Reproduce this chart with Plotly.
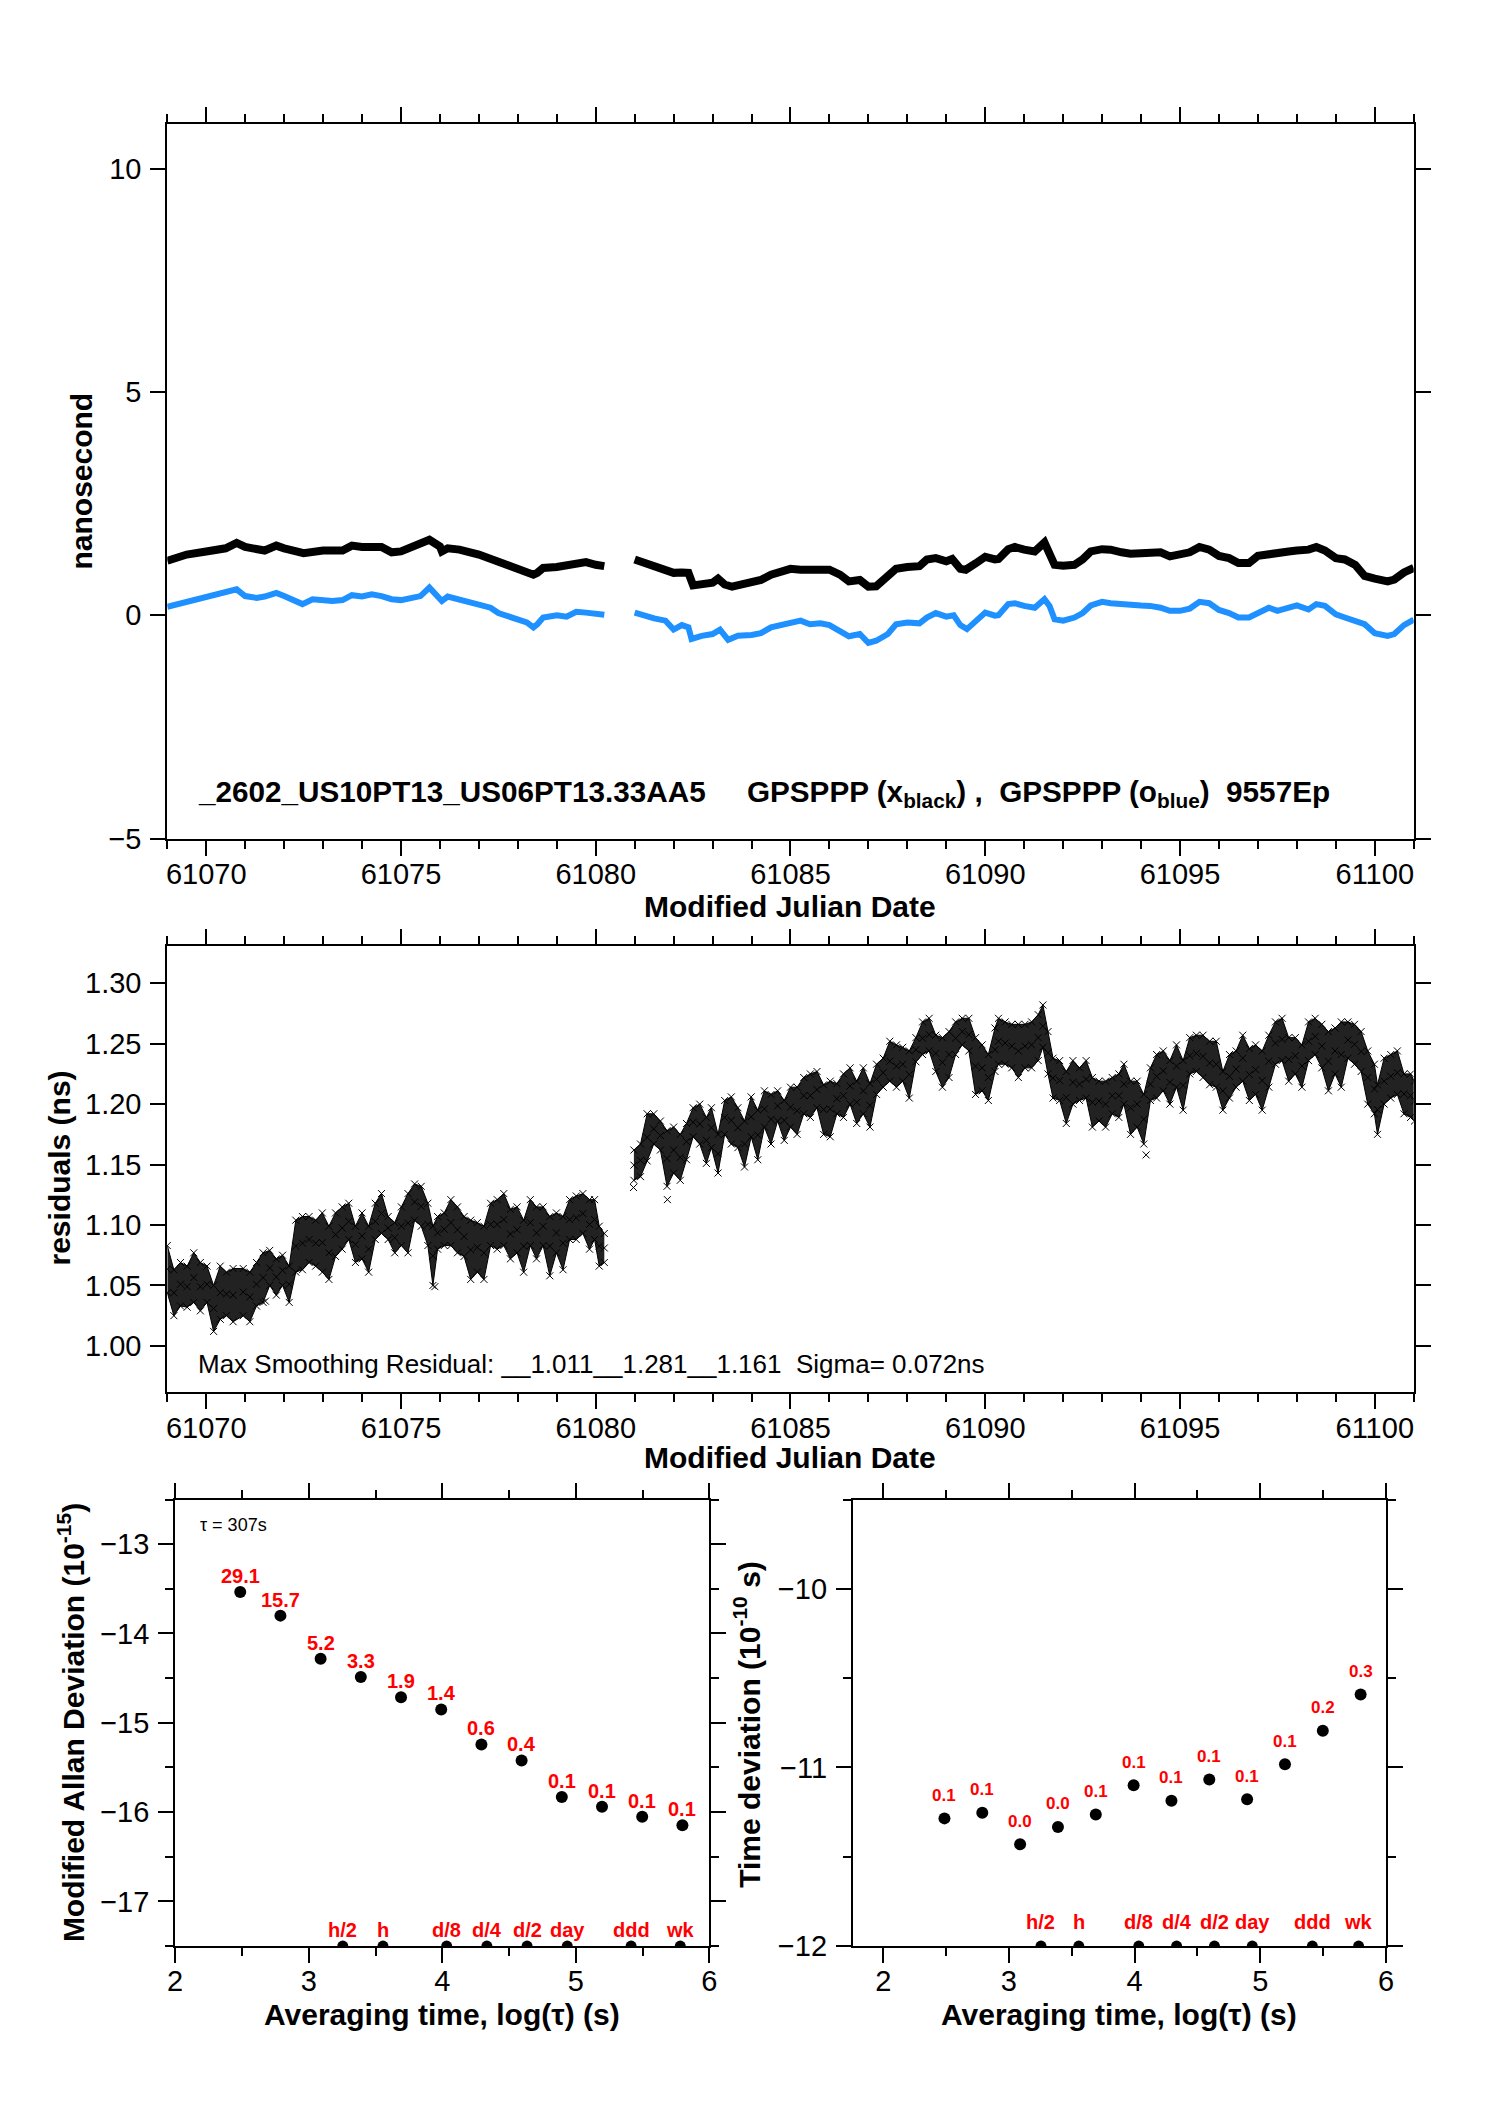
import plotly.graph_objects as go

W, H = 1488, 2105
FONT = "Liberation Sans, Arial, Helvetica, sans-serif"

# ---------------- top panel: time series (MJD, ns) ----------------
bk_t = [61069.00, 61069.50, 61070.00, 61070.50, 61070.78, 61071.00, 61071.50, 61071.80, 61072.00, 61072.50,
        61073.00, 61073.50, 61073.74, 61074.00, 61074.50, 61074.76, 61075.00, 61075.50, 61075.73, 61076.00,
        61076.05, 61076.20, 61076.50, 61077.00, 61077.50, 61078.00, 61078.40, 61078.50, 61078.65, 61079.00,
        61079.50, 61079.75, 61080.00, 61080.22,
        61081.00, 61081.20, 61081.50, 61081.79, 61082.00, 61082.21, 61082.38, 61082.50, 61082.72, 61083.00,
        61083.14, 61083.31, 61083.50, 61083.73, 61084.00, 61084.24, 61084.50, 61084.75, 61085.00, 61085.26,
        61085.50, 61085.77, 61086.00, 61086.27, 61086.50, 61086.78, 61087.00, 61087.20, 61087.50, 61087.71,
        61088.00, 61088.31, 61088.50, 61088.73, 61089.00, 61089.15, 61089.36, 61089.50, 61089.75, 61090.00,
        61090.25, 61090.34, 61090.59, 61090.76, 61091.00, 61091.27, 61091.52, 61091.65, 61091.78, 61092.00,
        61092.29, 61092.50, 61092.71, 61093.00, 61093.22, 61093.50, 61093.73, 61094.00, 61094.23, 61094.50,
        61094.74, 61095.00, 61095.25, 61095.50, 61095.75, 61096.00, 61096.26, 61096.50, 61096.77, 61097.00,
        61097.28, 61097.50, 61097.79, 61098.00, 61098.30, 61098.50, 61098.72, 61099.00, 61099.23, 61099.50,
        61099.74, 61100.00, 61100.33, 61100.50, 61100.75, 61101.00]
bk_v = [1.22, 1.36, 1.43, 1.50, 1.62, 1.53, 1.45, 1.56, 1.50, 1.39,
        1.45, 1.45, 1.56, 1.53, 1.53, 1.41, 1.43, 1.58, 1.69, 1.54,
        1.43, 1.50, 1.47, 1.36, 1.21, 1.02, 0.91, 0.95, 1.06, 1.08,
        1.16, 1.19, 1.13, 1.10,
        1.25, 1.19, 1.11, 1.06, 0.95, 0.96, 0.95, 0.67, 0.71, 0.73,
        0.82, 0.69, 0.64, 0.69, 0.74, 0.79, 0.91, 0.99, 1.04, 1.02,
        1.01, 0.99, 1.02, 0.91, 0.76, 0.79, 0.64, 0.65, 0.86, 1.04,
        1.08, 1.10, 1.25, 1.28, 1.21, 1.26, 1.04, 1.02, 1.16, 1.31,
        1.25, 1.26, 1.48, 1.53, 1.47, 1.43, 1.63, 1.39, 1.13, 1.11,
        1.13, 1.25, 1.43, 1.48, 1.47, 1.41, 1.38, 1.39, 1.41, 1.41,
        1.32, 1.36, 1.41, 1.53, 1.47, 1.33, 1.28, 1.17, 1.17, 1.33,
        1.38, 1.41, 1.43, 1.45, 1.47, 1.53, 1.45, 1.28, 1.25, 1.13,
        0.88, 0.82, 0.76, 0.80, 0.96, 1.06]

bl_t = [61069.00, 61069.50, 61070.00, 61070.50, 61070.78, 61071.00, 61071.29, 61071.50, 61071.80, 61072.00,
        61072.22, 61072.47, 61072.73, 61073.00, 61073.24, 61073.50, 61073.74, 61074.00, 61074.25, 61074.50,
        61074.76, 61075.00, 61075.27, 61075.50, 61075.73, 61076.00, 61076.05, 61076.20, 61076.50, 61077.00,
        61077.30, 61077.50, 61078.00, 61078.23, 61078.40, 61078.50, 61078.65, 61079.00, 61079.25, 61079.50,
        61079.75, 61080.00, 61080.22,
        61081.00, 61081.20, 61081.50, 61081.79, 61082.00, 61082.21, 61082.38, 61082.46, 61082.72, 61083.00,
        61083.19, 61083.40, 61083.65, 61084.00, 61084.24, 61084.50, 61084.75, 61085.00, 61085.26, 61085.50,
        61085.77, 61086.00, 61086.27, 61086.50, 61086.78, 61087.00, 61087.20, 61087.50, 61087.71, 61088.00,
        61088.31, 61088.50, 61088.73, 61089.00, 61089.19, 61089.36, 61089.53, 61089.75, 61090.00, 61090.25,
        61090.34, 61090.59, 61090.76, 61091.00, 61091.27, 61091.52, 61091.65, 61091.78, 61092.00, 61092.29,
        61092.50, 61092.71, 61093.00, 61093.22, 61093.50, 61093.73, 61094.00, 61094.23, 61094.50, 61094.74,
        61095.00, 61095.25, 61095.50, 61095.75, 61096.00, 61096.26, 61096.50, 61096.77, 61097.00, 61097.28,
        61097.50, 61097.79, 61098.00, 61098.30, 61098.50, 61098.72, 61099.00, 61099.23, 61099.50, 61099.74,
        61100.00, 61100.33, 61100.50, 61100.75, 61101.00]
bl_v = [0.19, 0.30, 0.39, 0.50, 0.58, 0.43, 0.39, 0.42, 0.50, 0.43,
        0.36, 0.25, 0.36, 0.34, 0.32, 0.34, 0.45, 0.42, 0.47, 0.43,
        0.36, 0.34, 0.39, 0.43, 0.62, 0.39, 0.32, 0.42, 0.36, 0.25,
        0.17, 0.05, -0.07, -0.16, -0.27, -0.20, -0.05, 0.00, -0.03, 0.08,
        0.06, 0.02, 0.01,
        0.06, 0.00, -0.07, -0.12, -0.32, -0.22, -0.27, -0.53, -0.46, -0.42,
        -0.32, -0.55, -0.46, -0.44, -0.40, -0.27, -0.22, -0.16, -0.12, -0.20,
        -0.18, -0.22, -0.37, -0.47, -0.42, -0.62, -0.57, -0.42, -0.20, -0.16,
        -0.18, -0.05, 0.05, -0.03, 0.00, -0.22, -0.31, -0.12, 0.06, -0.01,
        0.00, 0.25, 0.27, 0.21, 0.17, 0.36, 0.21, -0.09, -0.12, -0.05,
        0.05, 0.22, 0.30, 0.27, 0.25, 0.21, 0.22, 0.21, 0.17, 0.10,
        0.10, 0.15, 0.30, 0.27, 0.12, 0.05, -0.05, -0.05, 0.05, 0.17,
        0.10, 0.17, 0.22, 0.13, 0.25, 0.21, 0.02, -0.05, -0.12, -0.20,
        -0.40, -0.46, -0.42, -0.22, -0.10]

# ---------------- middle panel: residual band (MJD, low, high in ns) ----------------
res_t = [61069.00, 61069.17, 61069.34, 61069.51, 61069.68, 61069.85, 61070.02, 61070.19, 61070.36, 61070.52,
         61070.69, 61070.95, 61071.12, 61071.29, 61071.46, 61071.63, 61071.80, 61071.96, 61072.13, 61072.30,
         61072.47, 61072.64, 61072.81, 61072.98, 61073.15, 61073.32, 61073.49, 61073.66, 61073.83, 61074.00,
         61074.17, 61074.34, 61074.50, 61074.67, 61074.84, 61075.01, 61075.18, 61075.35, 61075.52, 61075.69,
         61075.82, 61075.94, 61076.11, 61076.28, 61076.45, 61076.62, 61076.79, 61076.96, 61077.13, 61077.30,
         61077.47, 61077.64, 61077.81, 61077.98, 61078.15, 61078.32, 61078.48, 61078.65, 61078.82, 61078.99,
         61079.16, 61079.33, 61079.50, 61079.67, 61079.84, 61079.97, 61080.09, 61080.22,
         61080.98, 61081.15, 61081.32, 61081.49, 61081.66, 61081.83, 61082.00, 61082.17, 61082.33, 61082.50,
         61082.67, 61082.84, 61082.97, 61083.14, 61083.31, 61083.48, 61083.65, 61083.82, 61083.99, 61084.16,
         61084.33, 61084.50, 61084.67, 61084.84, 61085.00, 61085.17, 61085.34, 61085.51, 61085.68, 61085.85,
         61086.02, 61086.19, 61086.36, 61086.53, 61086.70, 61086.87, 61087.04, 61087.21, 61087.38, 61087.55,
         61087.72, 61087.88, 61088.05, 61088.22, 61088.39, 61088.56, 61088.73, 61088.90, 61089.07, 61089.24,
         61089.41, 61089.58, 61089.75, 61089.92, 61090.08, 61090.25, 61090.34, 61090.51, 61090.68, 61090.85,
         61091.02, 61091.19, 61091.36, 61091.48, 61091.61, 61091.74, 61091.91, 61092.08, 61092.25, 61092.42,
         61092.59, 61092.75, 61092.92, 61093.09, 61093.26, 61093.43, 61093.56, 61093.73, 61093.90, 61094.07,
         61094.24, 61094.40, 61094.57, 61094.74, 61094.91, 61095.08, 61095.25, 61095.42, 61095.59, 61095.76,
         61095.93, 61096.10, 61096.27, 61096.44, 61096.61, 61096.78, 61096.94, 61097.11, 61097.28, 61097.45,
         61097.62, 61097.79, 61097.96, 61098.13, 61098.30, 61098.47, 61098.64, 61098.81, 61098.98, 61099.14,
         61099.31, 61099.48, 61099.65, 61099.82, 61099.99, 61100.07, 61100.24, 61100.41, 61100.58, 61100.75,
         61100.92, 61101.02]
res_lo = [1.044, 1.025, 1.033, 1.032, 1.036, 1.029, 1.036, 1.012, 1.022, 1.025,
          1.020, 1.025, 1.020, 1.033, 1.036, 1.050, 1.042, 1.050, 1.036, 1.061,
          1.063, 1.069, 1.066, 1.061, 1.055, 1.074, 1.080, 1.088, 1.069, 1.072,
          1.061, 1.088, 1.093, 1.088, 1.077, 1.083, 1.077, 1.104, 1.099, 1.083,
          1.050, 1.080, 1.083, 1.083, 1.077, 1.074, 1.055, 1.061, 1.055, 1.083,
          1.080, 1.083, 1.072, 1.077, 1.061, 1.083, 1.072, 1.083, 1.058, 1.077,
          1.063, 1.088, 1.088, 1.093, 1.080, 1.088, 1.066, 1.069,
          1.137, 1.140, 1.153, 1.167, 1.162, 1.132, 1.143, 1.137, 1.154, 1.173,
          1.167, 1.151, 1.164, 1.143, 1.175, 1.167, 1.164, 1.148, 1.173, 1.154,
          1.181, 1.167, 1.186, 1.170, 1.181, 1.175, 1.192, 1.189, 1.197, 1.175,
          1.173, 1.192, 1.189, 1.200, 1.184, 1.192, 1.181, 1.208, 1.214, 1.219,
          1.214, 1.219, 1.205, 1.235, 1.241, 1.244, 1.227, 1.214, 1.222, 1.241,
          1.249, 1.244, 1.208, 1.211, 1.203, 1.227, 1.233, 1.233, 1.230, 1.222,
          1.230, 1.230, 1.236, 1.247, 1.225, 1.205, 1.203, 1.184, 1.200, 1.203,
          1.205, 1.181, 1.186, 1.181, 1.192, 1.189, 1.200, 1.175, 1.181, 1.167,
          1.203, 1.205, 1.211, 1.200, 1.214, 1.195, 1.225, 1.227, 1.222, 1.216,
          1.214, 1.195, 1.205, 1.214, 1.219, 1.203, 1.208, 1.195, 1.214, 1.233,
          1.236, 1.219, 1.225, 1.214, 1.236, 1.241, 1.230, 1.211, 1.225, 1.214,
          1.238, 1.233, 1.227, 1.200, 1.192, 1.175, 1.200, 1.205, 1.208, 1.192,
          1.189, 1.186]
res_hi = [1.083, 1.063, 1.069, 1.066, 1.077, 1.069, 1.066, 1.050, 1.066, 1.061,
          1.064, 1.064, 1.061, 1.069, 1.077, 1.079, 1.072, 1.075, 1.066, 1.104,
          1.107, 1.107, 1.104, 1.110, 1.099, 1.110, 1.115, 1.118, 1.099, 1.110,
          1.099, 1.118, 1.126, 1.107, 1.102, 1.115, 1.126, 1.134, 1.132, 1.118,
          1.099, 1.107, 1.110, 1.121, 1.115, 1.107, 1.104, 1.102, 1.099, 1.118,
          1.121, 1.126, 1.113, 1.115, 1.104, 1.121, 1.115, 1.115, 1.107, 1.110,
          1.107, 1.121, 1.124, 1.126, 1.121, 1.121, 1.099, 1.093,
          1.162, 1.167, 1.192, 1.192, 1.186, 1.178, 1.181, 1.175, 1.184, 1.197,
          1.200, 1.189, 1.197, 1.175, 1.203, 1.206, 1.197, 1.186, 1.206, 1.195,
          1.211, 1.208, 1.211, 1.203, 1.214, 1.214, 1.222, 1.225, 1.227, 1.216,
          1.219, 1.217, 1.225, 1.230, 1.219, 1.230, 1.217, 1.233, 1.238, 1.252,
          1.249, 1.247, 1.244, 1.255, 1.268, 1.271, 1.257, 1.255, 1.260, 1.268,
          1.271, 1.271, 1.255, 1.249, 1.241, 1.263, 1.271, 1.268, 1.266, 1.266,
          1.266, 1.268, 1.274, 1.282, 1.260, 1.238, 1.236, 1.227, 1.236, 1.230,
          1.236, 1.222, 1.219, 1.219, 1.222, 1.225, 1.233, 1.219, 1.219, 1.208,
          1.230, 1.241, 1.244, 1.236, 1.249, 1.236, 1.255, 1.257, 1.257, 1.252,
          1.252, 1.227, 1.241, 1.244, 1.257, 1.246, 1.249, 1.244, 1.257, 1.268,
          1.271, 1.255, 1.255, 1.249, 1.268, 1.271, 1.266, 1.260, 1.263, 1.268,
          1.268, 1.266, 1.260, 1.244, 1.233, 1.216, 1.238, 1.241, 1.244, 1.225,
          1.225, 1.219]
# isolated outlying residual points
out_t = [61071.52, 61075.87, 61080.97, 61081.84, 61094.13]
out_v = [1.037, 1.049, 1.131, 1.121, 1.158]

res_text = "Max Smoothing Residual: __1.011__1.281__1.161  Sigma= 0.072ns"
top_text = ("_2602_US10PT13_US06PT13.33AA5     GPSPPP (x<sub>black</sub>) ,  "
            "GPSPPP (o<sub>blue</sub>)  9557Ep")

# ---------------- bottom panels: stability ----------------
log_tau = [2.487, 2.788, 3.089, 3.390, 3.691, 3.992, 4.293, 4.594, 4.895, 5.196, 5.497, 5.798]
mdev = [-13.536, -13.800, -14.283, -14.486, -14.714, -14.851, -15.242, -15.422, -15.831, -15.941, -16.051, -16.147]
mdev_lbl = ["29.1", "15.7", "5.2", "3.3", "1.9", "1.4", "0.6", "0.4", "0.1", "0.1", "0.1", "0.1"]
tdev = [-11.285, -11.254, -11.430, -11.333, -11.263, -11.099, -11.186, -11.068, -11.178, -10.982, -10.794, -10.592]
tdev_lbl = ["0.1", "0.1", "0.0", "0.0", "0.1", "0.1", "0.1", "0.1", "0.1", "0.1", "0.2", "0.3"]
mark_x = [3.255, 3.556, 4.033, 4.334, 4.635, 4.936, 5.414, 5.782]
mark_lbl = ["h/2", "h", "d/8", "d/4", "d/2", "day", "ddd", "wk"]


def with_gaps(t, v, gap=0.5):
    tt, vv = [], []
    for i in range(len(t)):
        if i > 0 and t[i] - t[i - 1] > gap:
            tt.append(None)
            vv.append(None)
        tt.append(t[i])
        vv.append(v[i])
    return tt, vv


def segments(t, gap=0.5):
    segs, start = [], 0
    for i in range(1, len(t)):
        if t[i] - t[i - 1] > gap:
            segs.append((start, i))
            start = i
    segs.append((start, len(t)))
    return segs


def PX(p):
    return p / W


def PY(p):
    return 1 - p / H


fig = go.Figure()

# top
tx, tv = with_gaps(bk_t, bk_v)
fig.add_trace(go.Scatter(x=tx, y=tv, mode="lines", line=dict(color="black", width=8),
                         connectgaps=False, xaxis="x", yaxis="y", showlegend=False))
tx, tv = with_gaps(bl_t, bl_v)
fig.add_trace(go.Scatter(x=tx, y=tv, mode="lines", line=dict(color="#1E90FF", width=6),
                         connectgaps=False, xaxis="x", yaxis="y", showlegend=False))

# middle: dense band
for a, b in segments(res_t):
    fig.add_trace(go.Scatter(x=res_t[a:b], y=res_lo[a:b], mode="lines",
                             line=dict(color="black", width=1), xaxis="x2", yaxis="y2", showlegend=False))
    fig.add_trace(go.Scatter(x=res_t[a:b], y=res_hi[a:b], mode="lines", fill="tonexty",
                             fillcolor="rgba(10,10,10,0.9)",
                             line=dict(color="black", width=1), xaxis="x2", yaxis="y2", showlegend=False))
mid = [(l + h) / 2 for l, h in zip(res_lo, res_hi)]
for arr in (res_lo, res_hi, mid):
    fig.add_trace(go.Scatter(x=res_t, y=arr, mode="markers",
                             marker=dict(symbol="x-thin", size=7, line=dict(color="black", width=1)),
                             xaxis="x2", yaxis="y2", showlegend=False))
fig.add_trace(go.Scatter(x=out_t, y=out_v, mode="markers",
                         marker=dict(symbol="x-thin", size=7, line=dict(color="black", width=1)),
                         xaxis="x2", yaxis="y2", showlegend=False))

# bottom left
fig.add_trace(go.Scatter(x=log_tau, y=mdev, mode="markers", marker=dict(color="black", size=12),
                         xaxis="x3", yaxis="y3", showlegend=False))
fig.add_trace(go.Scatter(x=mark_x, y=[-17.5] * len(mark_x), mode="markers",
                         marker=dict(color="black", size=11), xaxis="x3", yaxis="y3", showlegend=False))
# bottom right
fig.add_trace(go.Scatter(x=log_tau, y=tdev, mode="markers", marker=dict(color="black", size=12),
                         xaxis="x4", yaxis="y4", showlegend=False))
fig.add_trace(go.Scatter(x=mark_x, y=[-12.0] * len(mark_x), mode="markers",
                         marker=dict(color="black", size=11), xaxis="x4", yaxis="y4", showlegend=False))

TF = dict(family=FONT, size=29, color="black")


def axis(domain, rng, dtick, tick0, anchor, minor=None, standoff=3, **kw):
    d = dict(domain=domain, range=rng, dtick=dtick, tick0=tick0, anchor=anchor,
             ticks="outside", ticklen=15, tickwidth=2, tickcolor="black",
             showline=True, linewidth=2, linecolor="black", mirror="ticks",
             showgrid=False, zeroline=False, tickfont=TF, ticklabelstandoff=standoff)
    if minor is not None:
        d["minor"] = dict(dtick=minor, tick0=tick0, ticks="outside", ticklen=8, tickwidth=2,
                          tickcolor="black", showgrid=False)
    d.update(kw)
    return d


xd_top = [PX(161), PX(1421)]
fig.update_layout(
    width=W, height=H, margin=dict(l=0, r=0, t=0, b=0),
    paper_bgcolor="white", plot_bgcolor="white",
    font=dict(family=FONT, color="black"),
    xaxis=axis(xd_top, [61069, 61101], 5, 61070, "y", minor=1, tickformat="d", standoff=-6),
    yaxis=axis([PY(845), PY(125)], [-5, 11], 5, 0, "x"),
    xaxis2=axis(xd_top, [61069, 61101], 5, 61070, "y2", minor=1, tickformat="d", standoff=-6),
    yaxis2=axis([PY(1402.5), PY(953)], [0.962, 1.331], 0.05, 1.0, "x2", tickformat=".2f"),
    xaxis3=axis([PX(169), PX(709)], [2, 6], 1, 2, "y3", minor=0.5, standoff=-7),
    yaxis3=axis([PY(1961), PY(1511)], [-17.5, -12.5], 1, -17, "x3", minor=0.5),
    xaxis4=axis([PX(854), PX(1393)], [1.758, 6.0], 1, 2, "y4", minor=0.5, standoff=-7),
    yaxis4=axis([PY(1961), PY(1511)], [-12, -9.5], 1, -12, "x4", minor=0.5),
)

ann = []


def text(x, y, s, size, bold=True, angle=0, xanchor="center", color="black"):
    ann.append(dict(x=PX(x), y=PY(y), xref="paper", yref="paper", text=s, showarrow=False,
                    textangle=angle, xanchor=xanchor, yanchor="middle",
                    font=dict(family=FONT, size=size, color=color, weight="bold" if bold else "normal")))


text(190, 800, top_text, 29.7, xanchor="left")
text(74, 485, "nanosecond", 30, angle=-90)
text(791, 913, "Modified Julian Date", 30)
text(52, 1177, "residuals (ns)", 30, angle=-90)
text(190, 1374, res_text, 26, bold=False, xanchor="left")
text(791, 1469, "Modified Julian Date", 30)
text(192, 1537, "τ = 307s", 18, bold=False, xanchor="left")
text(64, 1736, "Modified Allan Deviation (10<sup>-15</sup>)", 30, angle=-90)
text(747, 1737, "Time deviation (10<sup>-10</sup> s)", 30, angle=-90)
text(439, 2030, "Averaging time, log(τ) (s)", 30)
text(1123, 2030, "Averaging time, log(τ) (s)", 30)

RED = dict(family=FONT, color="#FF0000", weight="bold")
for xv, yv, s in zip(log_tau, mdev, mdev_lbl):
    ann.append(dict(x=xv, y=yv, xref="x3", yref="y3", text=s, showarrow=False, yshift=16,
                    font=dict(size=20, **RED)))
for xv, s in zip(mark_x, mark_lbl):
    ann.append(dict(x=xv, y=-17.5, xref="x3", yref="y3", text=s, showarrow=False, yshift=16,
                    font=dict(size=20, **RED)))
for xv, yv, s in zip(log_tau, tdev, tdev_lbl):
    ann.append(dict(x=xv, y=yv, xref="x4", yref="y4", text=s, showarrow=False, yshift=23,
                    font=dict(size=17, **RED)))
for xv, s in zip(mark_x, mark_lbl):
    ann.append(dict(x=xv, y=-12.0, xref="x4", yref="y4", text=s, showarrow=False, yshift=24,
                    font=dict(size=20, **RED)))

fig.update_layout(annotations=ann)
fig.write_html(
    "out.html",
    config={"displayModeBar": False},
    post_script=("document.body.style.margin='0px';"
                 "document.body.style.overflow='hidden';"
                 "document.documentElement.style.overflow='hidden';"),
)
